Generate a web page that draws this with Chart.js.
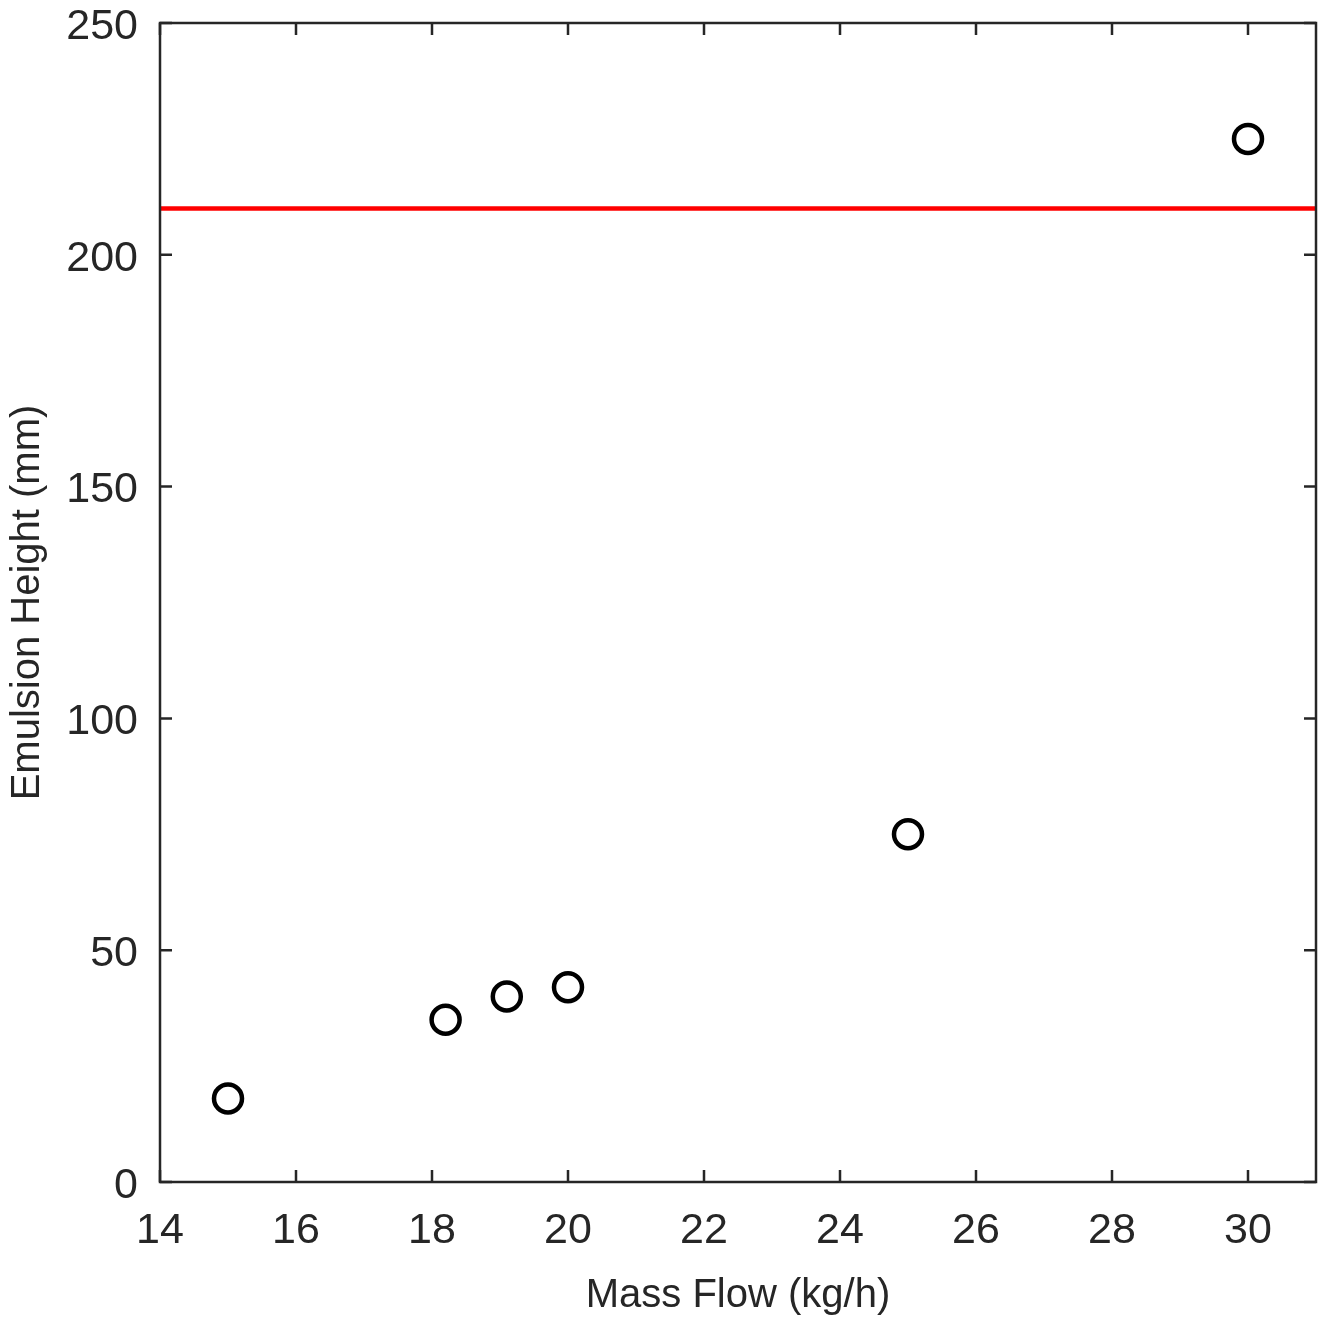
<!DOCTYPE html>
<html lang="en">
<head>
  <meta charset="UTF-8" />
  <title>Emulsion Height vs Mass Flow</title>
  <script src="https://cdn.jsdelivr.net/npm/chart.js"></script>
  <style>
    body {
      margin: 0;
      padding: 0;
      background: #fff;
    }
    #wrap {
      width: 1326px;
      height: 1324px;
    }
  </style>
</head>
<body>
  <div id="wrap">
    <canvas id="chart" width="1326" height="1324"></canvas>
  </div>

  <script>
    // measured points
    const massFlow = [15, 18.2, 19.1, 20, 25, 30];
    const emulsionHeight = [18, 35, 40, 42, 75, 225];

    // red limit line
    const limitX = [14, 31];
    const limitY = [210, 210];

    // axes
    const xTicks = [14, 16, 18, 20, 22, 24, 26, 28, 30];
    const yTicks = [0, 50, 100, 150, 200, 250];
    const xRange = [14, 31];
    const yRange = [0, 250];

    const axisColor = '#262626';
    const fontFamily = '"Liberation Sans", Arial, Helvetica, sans-serif';

    // box around the plot with inward ticks on all four sides
    const boxPlugin = {
      id: 'box',
      afterDraw(chart) {
        const { ctx, chartArea: a, scales } = chart;
        const len = 12;
        ctx.save();
        ctx.strokeStyle = axisColor;
        ctx.lineWidth = 2.5;
        ctx.beginPath();
        xTicks.forEach(v => {
          const px = scales.x.getPixelForValue(v);
          ctx.moveTo(px, a.bottom);
          ctx.lineTo(px, a.bottom - len);
          ctx.moveTo(px, a.top);
          ctx.lineTo(px, a.top + len);
        });
        yTicks.forEach(v => {
          const py = scales.y.getPixelForValue(v);
          ctx.moveTo(a.left, py);
          ctx.lineTo(a.left + len, py);
          ctx.moveTo(a.right, py);
          ctx.lineTo(a.right - len, py);
        });
        ctx.stroke();
        ctx.strokeRect(a.left, a.top, a.right - a.left, a.bottom - a.top);
        ctx.restore();
      }
    };

    function keepTicks(list) {
      return scale => {
        scale.ticks = list.map(v => ({ value: v }));
      };
    }

    new Chart(document.getElementById('chart'), {
      type: 'scatter',
      data: {
        datasets: [
          {
            type: 'line',
            data: limitX.map((x, i) => ({ x: x, y: limitY[i] })),
            borderColor: '#ff0000',
            borderWidth: 4.5,
            pointRadius: 0,
            fill: false
          },
          {
            data: massFlow.map((x, i) => ({ x: x, y: emulsionHeight[i] })),
            pointStyle: 'circle',
            pointRadius: 14,
            borderWidth: 4.5,
            pointBorderWidth: 4.5,
            borderColor: '#000',
            pointBorderColor: '#000',
            backgroundColor: 'rgba(0,0,0,0)'
          }
        ]
      },
      options: {
        responsive: false,
        animation: false,
        layout: {
          autoPadding: false,
          padding: { top: 23, right: 10, left: 0, bottom: 0 }
        },
        plugins: {
          legend: { display: false },
          tooltip: { enabled: false }
        },
        scales: {
          x: {
            type: 'linear',
            min: xRange[0],
            max: xRange[1],
            afterBuildTicks: keepTicks(xTicks),
            afterFit: s => {
              s.height = 142;
              s.paddingLeft = 0;
              s.paddingRight = 0;
            },
            grid: { display: false, drawTicks: false },
            border: { display: false },
            ticks: {
              padding: 28,
              color: axisColor,
              font: { family: fontFamily, size: 43, lineHeight: 1 }
            },
            title: {
              display: true,
              text: 'Mass Flow (kg/h)',
              color: axisColor,
              padding: { top: 0, bottom: 4 },
              font: { family: fontFamily, size: 40 }
            }
          },
          y: {
            type: 'linear',
            min: yRange[0],
            max: yRange[1],
            afterBuildTicks: keepTicks(yTicks),
            afterFit: s => {
              s.width = 160;
              s.paddingTop = 0;
              s.paddingBottom = 0;
            },
            grid: { display: false, drawTicks: false },
            border: { display: false },
            ticks: {
              padding: 22,
              labelOffset: 4,
              color: axisColor,
              font: { family: fontFamily, size: 43, lineHeight: 1 }
            },
            title: {
              display: true,
              text: 'Emulsion Height (mm)',
              color: axisColor,
              padding: { top: 4, bottom: 0 },
              font: { family: fontFamily, size: 40 }
            }
          }
        }
      },
      plugins: [boxPlugin]
    });
  </script>
</body>
</html>
